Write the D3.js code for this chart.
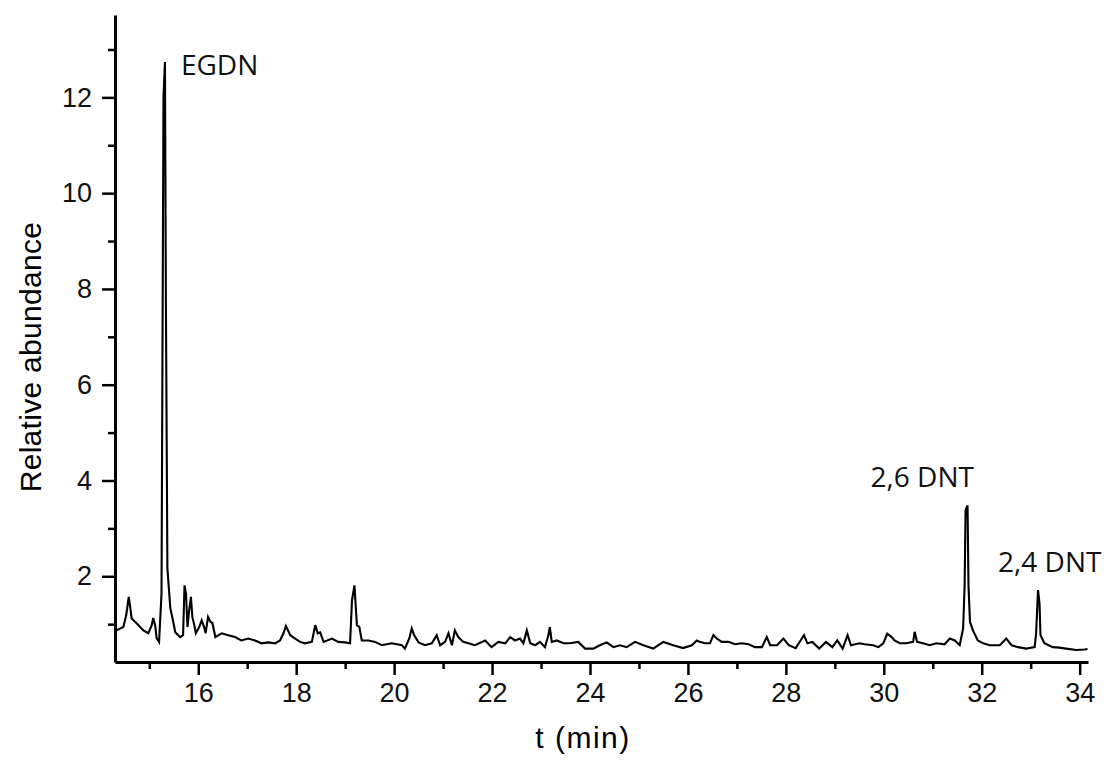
<!DOCTYPE html>
<html>
<head>
<meta charset="utf-8">
<script src="https://cdn.jsdelivr.net/npm/d3@7"></script>
<style>
  body { margin: 0; background: #fff; }
  .tick text { font-family: "Liberation Sans", Arial, sans-serif; }
</style>
</head>
<body>
<svg id="chart" width="1109" height="760"></svg>
<script>
// retention time (min) and relative abundance
const times = [
  14.30, 14.33, 14.47, 14.53, 14.58, 14.61, 14.64, 14.74, 14.88, 14.98,
  15.05, 15.08, 15.12, 15.15, 15.20, 15.25, 15.29, 15.32, 15.34, 15.37,
  15.43, 15.49, 15.53, 15.63, 15.69, 15.72, 15.75, 15.78, 15.81, 15.85,
  15.88, 15.92, 15.95, 16.02, 16.07, 16.12, 16.15, 16.20, 16.25, 16.29,
  16.35, 16.48, 16.61, 16.75, 16.88, 17.02, 17.16, 17.29, 17.43, 17.57,
  17.67, 17.74, 17.79, 17.88, 17.98, 18.08, 18.18, 18.32, 18.39, 18.44,
  18.49, 18.56, 18.73, 18.86, 19.00, 19.10, 19.14, 19.19, 19.24, 19.29,
  19.34, 19.48, 19.61, 19.75, 19.95, 20.16, 20.22, 20.31, 20.36, 20.41,
  20.50, 20.63, 20.77, 20.87, 20.94, 21.04, 21.11, 21.18, 21.24, 21.31,
  21.41, 21.52, 21.65, 21.86, 21.99, 22.13, 22.27, 22.37, 22.47, 22.57,
  22.64, 22.71, 22.78, 22.88, 22.98, 23.08, 23.15, 23.18, 23.22, 23.32,
  23.46, 23.59, 23.76, 23.90, 24.07, 24.20, 24.34, 24.48, 24.61, 24.75,
  24.92, 25.09, 25.29, 25.50, 25.70, 25.90, 26.08, 26.18, 26.24, 26.35,
  26.45, 26.52, 26.59, 26.69, 26.83, 26.96, 27.10, 27.24, 27.37, 27.51,
  27.61, 27.68, 27.82, 27.95, 28.06, 28.20, 28.30, 28.37, 28.44, 28.54,
  28.68, 28.82, 28.95, 29.05, 29.16, 29.26, 29.33, 29.50, 29.61, 29.78,
  29.89, 29.99, 30.07, 30.16, 30.22, 30.33, 30.46, 30.60, 30.63, 30.68,
  30.80, 30.94, 31.07, 31.24, 31.35, 31.45, 31.55, 31.62, 31.65, 31.67,
  31.71, 31.73, 31.76, 31.82, 31.92, 32.03, 32.16, 32.37, 32.50, 32.61,
  32.74, 32.91, 33.08, 33.11, 33.15, 33.18, 33.20, 33.28, 33.45, 33.59,
  33.72, 33.93, 34.10, 34.16
];
const abundance = [
  0.85, 0.87, 0.94, 1.19, 1.57, 1.36, 1.12, 1.02, 0.87, 0.81,
  0.98, 1.13, 0.98, 0.71, 0.63, 1.64, 12.0, 12.74, 7.6, 2.17,
  1.33, 1.05, 0.83, 0.73, 0.77, 1.81, 1.64, 0.94, 1.25, 1.57,
  1.15, 0.98, 0.81, 0.94, 1.08, 0.94, 0.81, 1.15, 1.05, 1.02,
  0.73, 0.81, 0.77, 0.73, 0.66, 0.70, 0.66, 0.60, 0.62, 0.60,
  0.66, 0.81, 0.96, 0.77, 0.70, 0.63, 0.60, 0.63, 0.98, 0.81,
  0.83, 0.63, 0.70, 0.63, 0.62, 0.60, 1.50, 1.81, 0.98, 0.94,
  0.66, 0.66, 0.63, 0.56, 0.60, 0.56, 0.49, 0.70, 0.91, 0.77,
  0.62, 0.56, 0.60, 0.77, 0.56, 0.63, 0.81, 0.56, 0.87, 0.73,
  0.63, 0.60, 0.56, 0.66, 0.52, 0.63, 0.60, 0.73, 0.66, 0.70,
  0.60, 0.87, 0.60, 0.56, 0.63, 0.52, 0.77, 0.94, 0.63, 0.66,
  0.60, 0.60, 0.63, 0.49, 0.49, 0.56, 0.62, 0.52, 0.56, 0.52,
  0.63, 0.56, 0.49, 0.63, 0.56, 0.50, 0.56, 0.66, 0.63, 0.60,
  0.60, 0.77, 0.70, 0.63, 0.63, 0.58, 0.60, 0.58, 0.52, 0.52,
  0.73, 0.56, 0.56, 0.70, 0.56, 0.50, 0.66, 0.77, 0.60, 0.63,
  0.49, 0.63, 0.52, 0.66, 0.49, 0.77, 0.56, 0.60, 0.58, 0.56,
  0.52, 0.60, 0.80, 0.73, 0.66, 0.60, 0.60, 0.63, 0.84, 0.63,
  0.60, 0.56, 0.60, 0.58, 0.70, 0.66, 0.56, 0.91, 1.78, 3.38,
  3.48, 1.78, 1.05, 0.87, 0.66, 0.60, 0.56, 0.56, 0.70, 0.56,
  0.52, 0.49, 0.52, 0.80, 1.71, 1.43, 0.77, 0.60, 0.52, 0.51,
  0.49, 0.46, 0.47, 0.48
];

const xMajor = [16, 18, 20, 22, 24, 26, 28, 30, 32, 34];
const xMinor = [15, 17, 19, 21, 23, 25, 27, 29, 31, 33];
const yMajor = [2, 4, 6, 8, 10, 12];
const yMinor = [1, 3, 5, 7, 9, 11, 13];

const peakNames = ["EGDN", "2,6 DNT", "2,4 DNT"];
const peakTimes = [15.32, 31.71, 33.15];
const peakHeights = [12.74, 3.48, 1.71];

const svg = d3.select("#chart");
const margin = {left: 115, top: 15, right: 21, bottom: 98};
const W = 1109, H = 760;

const x = d3.scaleLinear().domain([14.3, 34.17]).range([margin.left, W - margin.right]);
const y = d3.scaleLinear().domain([0.21, 13.72]).range([H - margin.bottom, margin.top]);

const data = times.map((t, i) => [t, abundance[i]]);

// trace
svg.append("path")
  .datum(data)
  .attr("fill", "none")
  .attr("stroke", "#000")
  .attr("stroke-width", 2.1)
  .attr("stroke-linejoin", "miter")
  .attr("d", d3.line().x(d => x(d[0])).y(d => y(d[1])));

// axes: major ticks with labels, minor ticks without
const xAxis = svg.append("g").attr("transform", `translate(0,${H - margin.bottom})`);
xAxis.call(d3.axisBottom(x).tickValues(xMajor).tickSize(13).tickPadding(8).tickSizeOuter(0));
xAxis.append("g").call(d3.axisBottom(x).tickValues(xMinor).tickSize(7).tickFormat("").tickSizeOuter(0))
  .select(".domain").remove();

const yAxis = svg.append("g").attr("transform", `translate(${margin.left},0)`);
yAxis.call(d3.axisLeft(y).tickValues(yMajor).tickSize(13).tickPadding(10).tickSizeOuter(0));
yAxis.append("g").call(d3.axisLeft(y).tickValues(yMinor).tickSize(7).tickFormat("").tickSizeOuter(0))
  .select(".domain").remove();

svg.selectAll(".domain").attr("stroke-width", 3).attr("stroke", "#000");
svg.selectAll(".tick line").attr("stroke-width", 2.5).attr("stroke", "#000");
svg.selectAll(".tick text").attr("font-size", 27).attr("fill", "#111");

// axis titles
svg.append("text")
  .attr("x", 583).attr("y", 748)
  .attr("text-anchor", "middle")
  .attr("font-family", "Liberation Sans, Arial, sans-serif")
  .attr("font-size", 30)
  .attr("letter-spacing", 1.5)
  .text("t (min)");

svg.append("text")
  .attr("transform", `translate(41,${357}) rotate(-90)`)
  .attr("text-anchor", "middle")
  .attr("font-family", "Liberation Sans, Arial, sans-serif")
  .attr("font-size", 30)
  .attr("letter-spacing", 0.3)
  .text("Relative abundance");

// peak labels
const labelDx = [16, -97, -40];
const labelDy = [13, -18, -18];
svg.selectAll(".peak")
  .data(peakNames)
  .enter().append("text")
  .attr("class", "peak")
  .attr("x", (d, i) => x(peakTimes[i]) + labelDx[i])
  .attr("y", (d, i) => y(peakHeights[i]) + labelDy[i])
  .attr("font-family", "Open Sans, Noto Sans, sans-serif")
  .attr("font-size", 28)
  .attr("fill", "#111")
  .text(d => d);
</script>
</body>
</html>
